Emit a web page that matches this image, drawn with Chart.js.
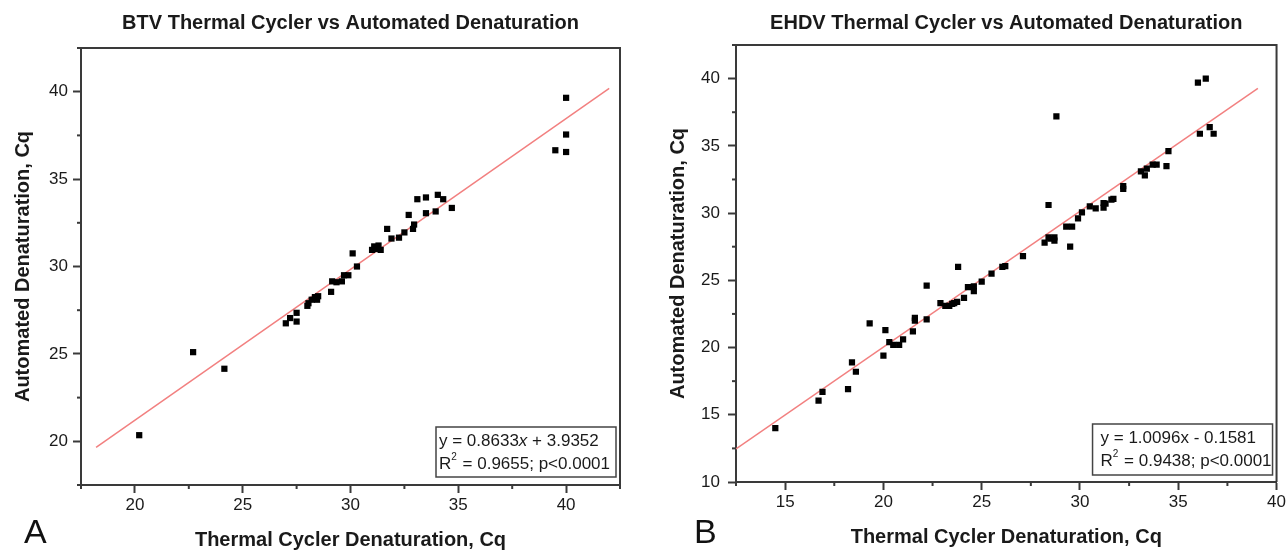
<!DOCTYPE html>
<html>
<head>
<meta charset="utf-8">
<title>BTV / EHDV Thermal Cycler vs Automated Denaturation</title>
<script src="https://cdn.jsdelivr.net/npm/chart.js@4.4.0/dist/chart.umd.min.js"></script>
<style>
  html, body { margin: 0; padding: 0; background: #fff; }
  #wrap { position: relative; width: 1288px; height: 550px; overflow: hidden; font-family: "Liberation Sans", Arial, sans-serif; }
  #btvBox { position: absolute; left: 0; top: 0; width: 640px; height: 550px; }
  #ehdvBox { position: absolute; left: 640px; top: 0; width: 648px; height: 550px; }
  .panel { position: absolute; font-size: 34px; line-height: 34px; color: #111; }
</style>
</head>
<body>
<div id="wrap">
  <div id="btvBox"><canvas id="btvChart" width="640" height="550"></canvas></div>
  <div id="ehdvBox"><canvas id="ehdvChart" width="648" height="550"></canvas></div>
  <div class="panel" style="left:24px; top:514px;">A</div>
  <div class="panel" style="left:694px; top:514px;">B</div>
</div>
<script>
// ---- data ----

// Panel A: BTV
const btvTitle = 'BTV Thermal Cycler vs Automated Denaturation';
const btvX = [20.2, 22.7, 24.15, 27.0, 27.2, 27.5, 27.5, 28.0, 28.05, 28.2, 28.35, 28.45, 28.5,
  29.1, 29.15, 29.35, 29.6, 29.7, 29.9, 30.1, 30.3, 31.0, 31.1, 31.3, 31.2, 31.4, 31.7, 31.9,
  32.25, 32.5, 32.7, 32.9, 32.95, 33.1, 33.5, 33.5, 33.95, 34.05, 34.3, 34.7, 39.5, 40.0, 40.0, 40.0];
const btvY = [20.35, 25.1, 24.15, 26.75, 27.05, 27.35, 26.85, 27.75, 27.9, 28.1, 28.25, 28.1, 28.3,
  28.55, 29.15, 29.1, 29.15, 29.5, 29.5, 30.75, 30.0, 30.95, 31.15, 31.2, 31.0, 30.95, 32.15, 31.6,
  31.65, 31.95, 32.95, 32.15, 32.4, 33.85, 33.95, 33.05, 33.15, 34.1, 33.85, 33.35, 36.65, 39.65, 37.55, 36.55];
const btvFitX = [18.2, 42];
const btvFitY = [19.65, 40.19];
const btvXRange = [17.5, 42.5];
const btvYRange = [17.5, 42.5];
const btvStats = [
  [{ text: 'y = 0.8633' }, { text: 'x', italic: true }, { text: ' + 3.9352' }],
  [{ text: 'R' }, { text: '2', sup: true }, { text: ' = 0.9655; p<0.0001' }]
];

// Panel B: EHDV
const ehdvTitle = 'EHDV Thermal Cycler vs Automated Denaturation';
const ehdvX = [14.5, 16.7, 16.9, 18.2, 18.4, 18.6, 19.3, 20.0, 20.1, 20.3, 20.5, 20.8, 21.0, 21.5,
  21.6, 21.6, 22.2, 22.2, 22.9, 23.15, 23.35, 23.5, 23.6, 23.75, 23.8, 24.1, 24.3, 24.6, 24.6, 25.0,
  25.5, 26.05, 26.2, 27.1, 28.2, 28.4, 28.4, 28.5, 28.7, 28.7, 28.8, 29.3, 29.5, 29.6, 29.9, 30.1,
  30.5, 30.8, 31.2, 31.2, 31.3, 31.6, 31.7, 32.2, 32.2, 33.1, 33.3, 33.4, 33.7, 33.9, 34.4, 34.5,
  36.0, 36.4, 36.1, 36.6, 36.8];
const ehdvY = [14.0, 16.05, 16.7, 16.9, 18.9, 18.2, 21.8, 19.4, 21.3, 20.4, 20.2, 20.2, 20.6, 21.2,
  22.2, 22.0, 24.6, 22.1, 23.3, 23.1, 23.1, 23.25, 23.3, 23.4, 26.0, 23.7, 24.5, 24.55, 24.2, 24.9,
  25.5, 26.0, 26.05, 26.8, 27.8, 30.6, 28.2, 28.1, 28.2, 27.95, 37.2, 29.0, 27.5, 29.0, 29.6, 30.05,
  30.5, 30.35, 30.4, 30.75, 30.7, 31.0, 31.05, 32.0, 31.8, 33.1, 32.8, 33.3, 33.6, 33.6, 33.5, 34.6,
  39.7, 40.0, 35.9, 36.4, 35.9];
const ehdvFitX = [12.5, 39.05];
const ehdvFitY = [12.46, 39.27];
const ehdvXRange = [12.5, 40];
const ehdvYRange = [10, 42.5];
const ehdvStats = [
  [{ text: 'y = 1.0096x - 0.1581' }],
  [{ text: 'R' }, { text: '2', sup: true }, { text: ' = 0.9438; p<0.0001' }]
];

const xTitle = 'Thermal Cycler Denaturation, Cq';
const yTitle = 'Automated Denaturation, Cq';

// ---- styling ----
const FONT = '"Liberation Sans", Arial, Helvetica, sans-serif';
const AXIS = '#3a3a3a';
const TEXT = '#1a1a1a';
const FIT = 'rgb(242, 128, 128)';

function toPoints(xs, ys) {
  return xs.map((x, i) => ({ x: x, y: ys[i] }));
}

// short minor ticks at the half steps (library ticks, library pixels)
const minorTicks = {
  id: 'minorTicks',
  afterDraw(chart) {
    const ctx = chart.ctx;
    ctx.save();
    ctx.strokeStyle = AXIS;
    ctx.lineWidth = 2;
    ['x', 'y'].forEach(id => {
      const s = chart.scales[id];
      s.ticks.forEach(t => {
        if (t.value % 5 === 0) return;
        const p = s.getPixelForValue(t.value);
        ctx.beginPath();
        if (id === 'x') { ctx.moveTo(p, s.top); ctx.lineTo(p, s.top + 4); }
        else { ctx.moveTo(s.right, p); ctx.lineTo(s.right - 4, p); }
        ctx.stroke();
      });
    });
    ctx.restore();
  }
};

// closes the plot box on the top and right sides
const frame = {
  id: 'frame',
  afterDraw(chart) {
    const { ctx, chartArea: a } = chart;
    ctx.save();
    ctx.strokeStyle = AXIS;
    ctx.lineWidth = 2;
    ctx.beginPath();
    ctx.moveTo(a.left, a.top);
    ctx.lineTo(a.right, a.top);
    ctx.lineTo(a.right, a.bottom);
    ctx.stroke();
    ctx.restore();
  }
};

// regression text box in the lower right corner
function makeStatsBox(lines, box) {
  return {
    id: 'statsBox',
    afterDraw(chart) {
      const { ctx, chartArea: a } = chart;
      const x = a.right - box.right - box.width;
      const y = a.bottom - box.bottom - box.height;
      ctx.save();
      ctx.fillStyle = '#fff';
      ctx.fillRect(x, y, box.width, box.height);
      ctx.strokeStyle = '#444';
      ctx.lineWidth = 1.5;
      ctx.strokeRect(x, y, box.width, box.height);
      ctx.fillStyle = TEXT;
      ctx.textBaseline = 'middle';
      ctx.textAlign = 'left';
      lines.forEach((line, i) => {
        let cx = x + box.padX;
        const cy = y + box.firstLine + i * box.lineGap;
        line.forEach(seg => {
          const size = seg.sup ? 10 : 17;
          ctx.font = (seg.italic ? 'italic ' : '') + size + 'px ' + FONT;
          ctx.fillText(seg.text, cx, seg.sup ? cy - 7 : cy);
          cx += ctx.measureText(seg.text).width + (seg.sup ? 1 : 0);
        });
      });
      ctx.restore();
    }
  };
}

function buildChart(canvasId, cfg) {
  const ctx = document.getElementById(canvasId).getContext('2d');
  const tickColor = (c) => (c.tick && c.tick.value % 5 === 0) ? AXIS : 'rgba(0,0,0,0)';
  const tickLabel = (v) => (v % 5 === 0 ? v : '');

  return new Chart(ctx, {
    type: 'scatter',
    data: {
      datasets: [
        {
          label: 'samples',
          data: toPoints(cfg.xs, cfg.ys),
          pointStyle: 'rect',
          pointRadius: 4.4,
          pointBorderWidth: 0,
          backgroundColor: '#000',
          borderColor: '#000'
        },
        {
          label: 'fit',
          type: 'line',
          data: toPoints(cfg.fitX, cfg.fitY),
          borderColor: FIT,
          borderWidth: 1.5,
          pointRadius: 0,
          fill: false
        }
      ]
    },
    options: {
      responsive: false,
      animation: false,
      events: [],
      layout: { padding: cfg.padding },
      plugins: {
        legend: { display: false },
        tooltip: { enabled: false },
        title: {
          display: true,
          text: cfg.title,
          fullSize: false,
          color: TEXT,
          font: { family: FONT, size: 20, weight: 'bold' },
          padding: cfg.titlePad
        }
      },
      scales: {
        x: {
          type: 'linear',
          min: cfg.xRange[0],
          max: cfg.xRange[1],
          afterFit: (s) => { s.height = cfg.xAxisHeight; },
          border: { color: AXIS, width: 2 },
          grid: { drawOnChartArea: false, drawTicks: true, tickLength: 8, tickWidth: 2, tickColor: tickColor },
          ticks: {
            stepSize: 2.5, autoSkip: false, maxRotation: 0, padding: 2,
            color: TEXT, font: { family: FONT, size: 17 }, callback: tickLabel
          },
          title: {
            display: true, text: xTitle, color: TEXT,
            font: { family: FONT, size: 20, weight: 'bold' },
            padding: { top: 0, bottom: cfg.xTitlePad }
          }
        },
        y: {
          type: 'linear',
          min: cfg.yRange[0],
          max: cfg.yRange[1],
          afterFit: (s) => { s.width = cfg.yAxisWidth; },
          border: { color: AXIS, width: 2 },
          grid: { drawOnChartArea: false, drawTicks: true, tickLength: 8, tickWidth: 2, tickColor: tickColor },
          ticks: {
            stepSize: 2.5, autoSkip: false, padding: cfg.yTickPad,
            color: TEXT, font: { family: FONT, size: 17 }, callback: tickLabel
          },
          title: {
            display: true, text: yTitle, color: TEXT,
            font: { family: FONT, size: 20, weight: 'bold' },
            padding: { top: cfg.yTitlePad, bottom: 0 }
          }
        }
      }
    },
    plugins: [minorTicks, frame, makeStatsBox(cfg.stats, cfg.box)]
  });
}

document.addEventListener('DOMContentLoaded', () => {
  window.btvChart = buildChart('btvChart', {
    title: btvTitle, xs: btvX, ys: btvY, fitX: btvFitX, fitY: btvFitY,
    xRange: btvXRange, yRange: btvYRange, stats: btvStats,
    padding: { left: 0, right: 20, top: 0, bottom: 0 },
    titlePad: { top: 11, bottom: 13 },
    xAxisHeight: 65, yAxisWidth: 81,
    xTitlePad: -2, yTitlePad: 11, yTickPad: 5,
    box: { width: 180, height: 50, right: 4, bottom: 8, padX: 3, firstLine: 14, lineGap: 23 }
  });

  window.ehdvChart = buildChart('ehdvChart', {
    title: ehdvTitle, xs: ehdvX, ys: ehdvY, fitX: ehdvFitX, fitY: ehdvFitY,
    xRange: ehdvXRange, yRange: ehdvYRange, stats: ehdvStats,
    padding: { left: 0, right: 10, top: 0, bottom: 0 },
    titlePad: { top: 11, bottom: 10 },
    xAxisHeight: 68, yAxisWidth: 96,
    xTitlePad: 1, yTitlePad: 26, yTickPad: 8,
    box: { width: 180, height: 51, right: 4, bottom: 7, padX: 8, firstLine: 14, lineGap: 23 }
  });
});
</script>
</body>
</html>
